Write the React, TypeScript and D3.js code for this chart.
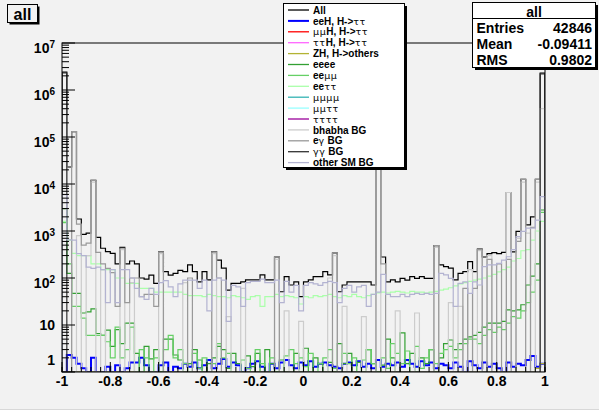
import React from 'react';
import * as d3 from 'd3';

const N_BINS = 100;
const X_MIN = -1;
const X_MAX = 1;
const X_TICKS = [-1, -0.8, -0.6, -0.4, -0.2, 0, 0.2, 0.4, 0.6, 0.8, 1];
const X_LABELS = ['-1', '-0.8', '-0.6', '-0.4', '-0.2', '0', '0.2', '0.4', '0.6', '0.8', '1'];
const Y_DECADES = [0, 1, 2, 3, 4, 5, 6, 7];

const ALL = [
  2.4e6, 2.3e4, 1.3e5, 1800, 850, 900, 1.2e4, 730, 430, 365,
  335, 200, 450, 200, 230, 200, 100, 95, 115, 77,
  365, 136, 115, 125, 145, 136, 190, 136, 83, 136,
  91, 363, 240, 163, 55, 77, 77, 83, 91, 91,
  91, 116, 91, 91, 280, 51, 107, 71, 83, 40,
  83, 91, 107, 107, 136, 116, 340, 51, 71, 83,
  83, 83, 83, 83, 71, 5e5, 280, 83, 91, 83,
  98, 90, 107, 98, 107, 98, 98, 490, 191, 175,
  163, 91, 126, 136, 223, 136, 410, 280, 330, 345,
  330, 350, 6600, 360, 980, 1.25e4, 1350, 2000, 1.25e4, 2.3e6,
];

const EEH = [
  1, 2.3, 2, 1.5, 1.2, 1, 2, 1, 1, 1.3,
  1, 1.4, 1, 1.2, 1.6, 1.6, 2, 1.4, 1, 1,
  1.4, 1.6, 1, 1.3, 1.2, 1.5, 1.3, 1.6, 1.2, 1.4,
  1.8, 1.2, 1.5, 1.9, 1.3, 1.6, 1.4, 1, 1.2, 1.5,
  1.7, 1.3, 1, 1.5, 1.2, 1.6, 1.8, 1.4, 1.2, 1.6,
  1.4, 1.7, 1.3, 1.5, 1.6, 1.4, 1.3, 1.2, 1.5, 1.6,
  1.4, 1.7, 1.3, 1.5, 1.2, 1.8, 1.3, 1.5, 1.4, 1.6,
  1.3, 1.8, 1.5, 1.3, 1.7, 1.4, 1.6, 1.2, 1.5, 1.4,
  1.2, 1.6, 1.3, 1, 1.7, 1.4, 1.2, 1.6, 1.3, 1.5,
  1.2, 1, 1.6, 1.3, 1.5, 1.4, 1.8, 2.2, 1.3, 1.5,
];

const ZH = [
  0, 0, 0, 0, 0, 0, 0, 0, 0, 0,
  0, 0, 0, 0, 0, 0, 0, 0, 0, 0,
  0, 0, 0, 0, 0, 0, 0, 0, 0, 0,
  0, 0, 0, 0, 0, 0, 0, 0, 0, 0,
  0, 0, 0, 0, 0, 0, 0, 0, 0, 0,
  0, 0, 0, 0, 0, 0, 0, 0, 0, 0,
  0, 0, 0, 0, 0, 0, 0, 0, 0, 0,
  0, 0, 0, 0, 0, 0, 0, 0, 0, 0,
  0, 0, 0, 0, 0, 0, 0, 0, 0, 0,
  0, 0, 0, 0, 0, 0, 0, 0, 1.2, 1.5,
];

const EEEE = [
  3000, 125, 47, 47, 18, 19, 22, 6.6, 6, 7.8,
  3.5, 8, 4, 11, 11, 2.5, 0, 3.5, 1.9, 3,
  0, 5, 5, 2.3, 1.8, 0, 1.5, 3, 1.8, 0,
  1.5, 2, 3.5, 3, 1.2, 2.5, 1.5, 0, 2.2, 1.3,
  2.5, 0, 3, 1.5, 0, 1.8, 1, 0, 2.5, 0,
  3.2, 0, 2, 1.5, 0, 1.6, 0, 4, 1.5, 2.5,
  0, 1.6, 0, 3, 1.5, 0, 1.4, 5, 2, 1,
  6.8, 1.5, 2.5, 0, 2, 1.5, 3, 1, 2, 4,
  4.8, 3, 4, 5, 5.6, 6, 7, 9, 11, 11,
  11, 12, 21, 20, 21, 27, 71, 110, 200, 2800,
];

const EEMM = [
  1500, 200, 25, 25, 14, 6, 6, 6, 6, 4.4,
  2, 9, 2, 3, 9, 1, 3, 2, 0, 2,
  1, 3, 6, 2, 3, 1.5, 0, 2.5, 1.2, 2,
  0, 1.5, 4, 2, 2.5, 1, 0, 1.8, 1.2, 0,
  3, 1.5, 0, 2, 1, 0, 2.2, 3, 1.5, 2,
  1.3, 2.5, 0, 1.5, 2, 3, 1.2, 0, 2.5, 1.5,
  2, 0, 1.8, 3, 1.5, 0, 2, 1.2, 4, 2.5,
  1.5, 2.8, 0, 3.5, 1.2, 2, 3, 1.5, 2.5, 3,
  3.5, 2, 3, 4, 5, 5, 4, 6, 8, 7,
  9, 8, 11, 15, 14, 20, 30, 50, 90, 2500,
];

const EETT = [
  1600, 640, 335, 300, 300, 300, 200, 200, 150, 150,
  150, 100, 100, 77, 77, 77, 60, 60, 60, 50,
  50, 50, 50, 50, 50, 45, 42, 42, 42, 40,
  45, 42, 40, 40, 38, 42, 40, 38, 35, 40,
  42, 25, 40, 40, 45, 40, 42, 40, 38, 28,
  40, 38, 42, 40, 42, 45, 40, 38, 42, 40,
  45, 40, 38, 42, 45, 48, 50, 48, 50, 52,
  50, 48, 52, 50, 50, 48, 50, 52, 55, 58,
  62, 68, 75, 80, 85, 90, 95, 100, 110, 120,
  135, 150, 170, 230, 260, 380, 400, 640, 1000, 1600,
];

const BHABHA = [
  4e5, 1e4, 0, 800, 0, 300, 1.1e4, 0, 150, 0,
  0, 0, 400, 0, 80, 0, 0, 0, 0, 0,
  330, 0, 0, 0, 0, 80, 0, 0, 0, 0,
  0, 330, 0, 0, 15, 0, 0, 60, 0, 0,
  0, 0, 0, 0, 250, 0, 20, 0, 0, 12,
  0, 0, 0, 0, 0, 100, 300, 0, 25, 0,
  0, 0, 15, 0, 0, 4e5, 0, 0, 0, 20,
  0, 0, 0, 18, 0, 0, 0, 450, 0, 0,
  30, 0, 25, 0, 150, 0, 380, 0, 300, 0,
  0, 0, 6600, 0, 700, 1.1e4, 900, 0, 1.1e4, 4e5,
];

const EGAMMA = [
  0, 0, 1.3e5, 1400, 500, 550, 1.2e4, 350, 200, 160,
  130, 25, 430, 30, 100, 100, 40, 45, 45, 25,
  360, 0, 0, 0, 0, 0, 100, 0, 0, 0,
  0, 360, 100, 0, 0, 0, 0, 0, 0, 0,
  0, 0, 0, 0, 280, 0, 0, 0, 0, 0,
  0, 0, 0, 0, 0, 0, 340, 0, 0, 0,
  0, 0, 0, 0, 0, 5e5, 200, 0, 0, 0,
  0, 0, 0, 0, 0, 0, 0, 490, 0, 0,
  0, 0, 0, 60, 0, 60, 400, 0, 250, 0,
  200, 0, 250, 0, 600, 1.25e4, 0, 1200, 1.25e4, 0,
];

const GAMGAM = [
  2.3e6, 0, 0, 0, 0, 0, 0, 0, 0, 0,
  0, 0, 0, 0, 0, 0, 0, 0, 0, 0,
  0, 0, 0, 0, 0, 0, 0, 0, 0, 0,
  0, 0, 0, 0, 0, 0, 0, 0, 0, 0,
  0, 0, 0, 0, 0, 0, 0, 0, 0, 0,
  0, 0, 0, 0, 0, 0, 0, 0, 0, 0,
  0, 0, 0, 0, 0, 0, 0, 0, 0, 0,
  0, 0, 0, 0, 0, 0, 0, 0, 0, 0,
  0, 0, 0, 0, 0, 0, 0, 0, 0, 0,
  0, 0, 0, 0, 0, 0, 0, 0, 0, 2.2e6,
];

const OTHER_SM = [
  5900, 650, 640, 330, 300, 170, 160, 170, 150, 30,
  150, 30, 150, 150, 100, 60, 40, 35, 60, 45,
  80, 88, 65, 40, 75, 90, 90, 90, 60, 90,
  20, 90, 100, 90, 12, 70, 65, 25, 80, 85,
  85, 95, 80, 80, 90, 30, 85, 50, 70, 20,
  70, 80, 75, 70, 80, 85, 80, 30, 60, 70,
  50, 65, 70, 25, 45, 50, 120, 45, 40, 40,
  45, 40, 45, 47, 45, 47, 45, 47, 126, 116,
  98, 25, 77, 83, 47, 83, 71, 175, 190, 190,
  205, 240, 283, 400, 760, 980, 1150, 1150, 1700, 5400,
];

const STATS_TITLE = 'all';
const STATS_ROWS = [
  ['Entries', '42846'],
  ['Mean', '-0.09411'],
  ['RMS', '0.9802'],
];

type Part = { t: string; g?: boolean };
const LEGEND: { parts: Part[]; color: string }[] = [
  { parts: [{ t: 'All' }], color: '#000000' },
  { parts: [{ t: 'eeH, H->' }, { t: 'ττ', g: true }], color: '#0000ff' },
  { parts: [{ t: 'μμ', g: true }, { t: 'H, H->' }, { t: 'ττ', g: true }], color: '#ff0000' },
  { parts: [{ t: 'ττ', g: true }, { t: 'H, H->' }, { t: 'ττ', g: true }], color: '#ff66ff' },
  { parts: [{ t: 'ZH, H->others' }], color: '#b3b333' },
  { parts: [{ t: 'eeee' }], color: '#33a033' },
  { parts: [{ t: 'ee' }, { t: 'μμ', g: true }], color: '#66d066' },
  { parts: [{ t: 'ee' }, { t: 'ττ', g: true }], color: '#aaffaa' },
  { parts: [{ t: 'μμμμ', g: true }], color: '#33b3b3' },
  { parts: [{ t: 'μμττ', g: true }], color: '#99ffff' },
  { parts: [{ t: 'ττττ', g: true }], color: '#990099' },
  { parts: [{ t: 'bhabha BG' }], color: '#cccccc' },
  { parts: [{ t: 'e' }, { t: 'γ', g: true }, { t: ' BG' }], color: '#999999' },
  { parts: [{ t: 'γγ', g: true }, { t: ' BG' }], color: '#333333' },
  { parts: [{ t: 'other SM BG' }], color: '#b3b3d1' },
];

const FX0 = 62, FX1 = 545, FY0 = 43, FY1 = 372;
const FONT = '"Liberation Sans", Arial, Helvetica, sans-serif';
const GFONT = '"DejaVu Sans", sans-serif';

export default function App() {
  const x = d3.scaleLinear().domain([X_MIN, X_MAX]).range([FX0, FX1]);
  const y = d3.scaleLog().domain([1, 1e7]).range([FY1, FY0]);
  const binW = (X_MAX - X_MIN) / N_BINS;
  const yv = (v: number) => (v <= 1 ? FY1 : y(Math.min(v, 1e9)));

  const histPath = (vals: number[]) => {
    let d = `M${x(X_MIN)},${FY1}`;
    vals.forEach((v, i) => {
      d += `V${yv(v)}H${x(X_MIN + (i + 1) * binW)}`;
    });
    d += `V${FY1}`;
    return d;
  };

  const series: { vals: number[]; color: string; w: number }[] = [
    { vals: ALL, color: '#000000', w: 1.2 },
    { vals: EEH, color: '#0000ff', w: 2 },
    { vals: ZH, color: '#b3b333', w: 1.2 },
    { vals: EEEE, color: '#33a033', w: 1.2 },
    { vals: EEMM, color: '#66d066', w: 1.2 },
    { vals: EETT, color: '#aaffaa', w: 1.2 },
    { vals: BHABHA, color: '#cccccc', w: 1.2 },
    { vals: EGAMMA, color: '#999999', w: 1.2 },
    { vals: GAMGAM, color: '#333333', w: 1.2 },
    { vals: OTHER_SM, color: '#b3b3d1', w: 1.2 },
  ];

  const xMinor = d3.range(0, 51).map((i) => X_MIN + i * 0.04);
  const yMinor: number[] = [];
  for (let k = 0; k < 7; k++) for (let m = 2; m <= 9; m++) yMinor.push(m * Math.pow(10, k));

  const legX = 283, legY = 3, legW = 121, legH = 164;

  return (
    <svg width={599} height={410} style={{ position: 'absolute', left: 0, top: 0 }}
      fontFamily={FONT}>
      <rect x={0} y={0} width={599} height={410} fill="#f2f2f2" />
      <line x1={0} x2={599} y1={409.5} y2={409.5} stroke="#d8d8d8" />
      <defs>
        <clipPath id="frameClip">
          <rect x={FX0} y={FY0} width={FX1 - FX0} height={FY1 - FY0} />
        </clipPath>
      </defs>
      <g clipPath="url(#frameClip)">
        {series.map((s, i) => (
          <path key={i} d={histPath(s.vals)} fill="none" stroke={s.color} strokeWidth={s.w} />
        ))}
      </g>
      <rect x={FX0} y={FY0} width={FX1 - FX0} height={FY1 - FY0} fill="none" stroke="#000" strokeWidth={1} />
      {/* x ticks */}
      {xMinor.map((v, i) => (
        <line key={'xm' + i} x1={x(v)} x2={x(v)} y1={FY1} y2={FY1 - 5} stroke="#000" strokeWidth={1} />
      ))}
      {X_TICKS.map((v, i) => (
        <line key={'xM' + i} x1={x(v)} x2={x(v)} y1={FY1} y2={FY1 - 10} stroke="#000" strokeWidth={1} />
      ))}
      {X_TICKS.map((v, i) => (
        <text key={'xl' + i} x={x(v)} y={386} textAnchor="middle" fontSize={14} fontWeight="bold">{X_LABELS[i]}</text>
      ))}
      {/* y ticks */}
      {yMinor.map((v, i) => (
        <line key={'ym' + i} x1={FX0} x2={FX0 + 7} y1={y(v)} y2={y(v)} stroke="#000" strokeWidth={1} />
      ))}
      {Y_DECADES.map((k) => (
        <line key={'yM' + k} x1={FX0} x2={FX0 + 13} y1={y(Math.pow(10, k))} y2={y(Math.pow(10, k))} stroke="#000" strokeWidth={1} />
      ))}
      {Y_DECADES.map((k) => {
        const ty = y(Math.pow(10, k));
        if (k === 0) return <text key={'yl' + k} x={55} y={365} textAnchor="end" fontSize={14} fontWeight="bold">1</text>;
        if (k === 1) return <text key={'yl' + k} x={55} y={ty + 5} textAnchor="end" fontSize={14} fontWeight="bold">10</text>;
        return (
          <text key={'yl' + k} x={55} y={ty + 10} textAnchor="end" fontSize={14} fontWeight="bold">
            10<tspan fontSize={10} dy={-5.5}>{k}</tspan>
          </text>
        );
      })}
      {/* title box */}
      <rect x={9.5} y={6.5} width={30} height={18} fill="#000" />
      <rect x={7.5} y={4.5} width={30} height={18} fill="#f2f2f2" stroke="#000" />
      <text x={22.5} y={19.5} textAnchor="middle" fontSize={16} fontWeight="bold">all</text>
      {/* legend */}
      <rect x={legX + 3} y={legY + 3} width={legW} height={legH} fill="#000" />
      <rect x={legX + 0.5} y={legY + 0.5} width={legW} height={legH} fill="#fff" stroke="#000" />
      {LEGEND.map((e, i) => {
        const cy = 10 + 10.9 * i;
        return (
          <g key={'lg' + i}>
            <line x1={288} x2={309} y1={cy} y2={cy} stroke={e.color} strokeWidth={i === 1 ? 2 : 1.3} />
            <text x={313} y={cy + 3.6} fontSize={10} fontWeight="bold">
              {e.parts.map((p, j) => (
                <tspan key={j} fontFamily={p.g ? GFONT : FONT} fontWeight={p.g ? 'normal' : 'bold'}
                  letterSpacing={p.g ? 0.6 : 0} fontSize={p.g ? 9.5 : 10}>{p.t}</tspan>
              ))}
            </text>
          </g>
        );
      })}
      {/* stats box */}
      <rect x={475} y={5} width={123} height={65} fill="#000" />
      <rect x={472.5} y={2.5} width={123} height={65} fill="#fff" stroke="#000" />
      <line x1={472.5} x2={595.5} y1={18.5} y2={18.5} stroke="#000" />
      <text x={534} y={16.5} textAnchor="middle" fontSize={14} fontWeight="bold">{STATS_TITLE}</text>
      {STATS_ROWS.map((r, i) => (
        <g key={'st' + i}>
          <text x={476.5} y={33 + 16 * i} fontSize={14} fontWeight="bold">{r[0]}</text>
          <text x={592} y={33 + 16 * i} textAnchor="end" fontSize={14} fontWeight="bold">{r[1]}</text>
        </g>
      ))}
    </svg>
  );
}
